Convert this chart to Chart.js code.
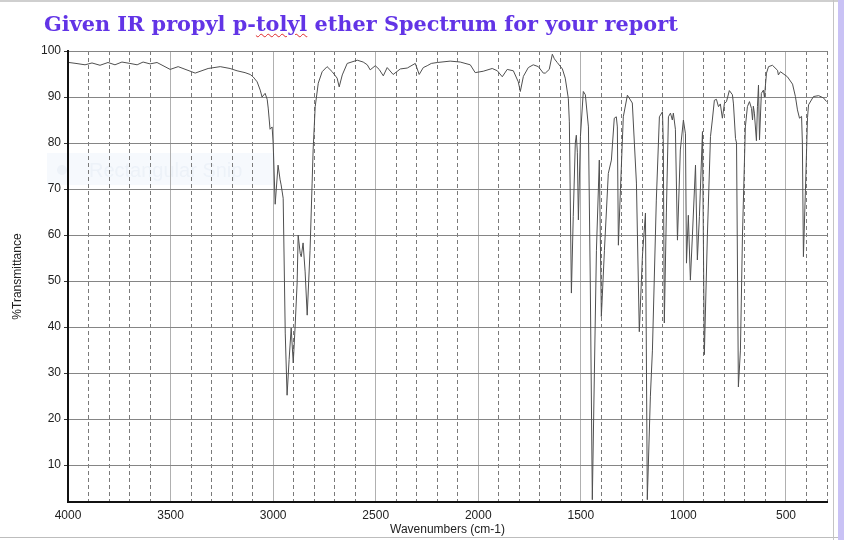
<!DOCTYPE html>
<html>
<head>
<meta charset="utf-8">
<title>IR propyl p-tolyl ether</title>
<script src="https://cdn.jsdelivr.net/npm/chart.js@4.4.1/dist/chart.umd.min.js"></script>
<style>
  html, body { margin: 0; padding: 0; background: #fff; }
  #page { position: relative; width: 844px; height: 540px; overflow: hidden; background: #fff; }
  #irChart { position: absolute; left: 0; top: 0; }
  #title {
    position: absolute; left: 44px; top: 11px;
    font-family: "DejaVu Serif", "Liberation Serif", serif;
    font-weight: bold; font-size: 20.8px; color: #6234e6;
    white-space: nowrap;
  }
  .typo { text-decoration: underline wavy #e02a2a; text-decoration-thickness: 1px; text-underline-offset: 2px; }
  #frameTop { position: absolute; left: 0; top: 0; width: 844px; height: 2px; background: #cfcfcf; }
  #frameBottom { position: absolute; left: 0; top: 537px; width: 844px; height: 1px; background: #bdbdbd; }
  #frameRight { position: absolute; left: 833px; top: 0; width: 1px; height: 540px; background: #c4c4c4; }
  #stripRight { position: absolute; left: 838px; top: 0; width: 6px; height: 540px; background: #c9c2f5; }
</style>
</head>
<body>
<div id="page">
  <canvas id="irChart" width="844" height="540"></canvas>
  <div id="title">Given IR propyl p-<span class="typo">tolyl</span> ether Spectrum for your report</div>
  <div id="frameTop"></div>
  <div id="frameBottom"></div>
  <div id="frameRight"></div>
  <div id="stripRight"></div>
</div>
<script>
// wavenumber (cm-1) and %T
const wavenumbers = [
  3995, 3961, 3917, 3883, 3844, 3805, 3771, 3737, 3698, 3663, 3634, 3600, 3566,
  3502, 3463, 3380, 3317, 3258, 3210, 3176, 3137, 3112, 3098, 3078, 3063, 3054,
  3039, 3029, 3024, 3015, 3005, 3000, 2990, 2976, 2966, 2961, 2951, 2941, 2932,
  2922, 2912, 2902, 2893, 2883, 2878, 2868, 2863, 2854, 2844, 2834, 2820, 2810,
  2805, 2795, 2780, 2761, 2737, 2712, 2688, 2678, 2663, 2639, 2590, 2561, 2541,
  2527, 2502, 2483, 2463, 2444, 2415, 2380, 2346, 2307, 2288, 2268, 2249, 2229,
  2200, 2137, 2088, 2039, 2015, 1976, 1932, 1907, 1883, 1859, 1829, 1805, 1795,
  1780, 1756, 1732, 1707, 1683, 1673, 1654, 1639, 1629, 1615, 1590, 1576, 1561,
  1556, 1546, 1537, 1527, 1522, 1517, 1512, 1502, 1488, 1478, 1463, 1454, 1444,
  1434, 1424, 1410, 1400, 1385, 1366, 1351, 1337, 1327, 1322, 1317, 1307, 1293,
  1273, 1249, 1229, 1215, 1200, 1185, 1176, 1161, 1151, 1132, 1117, 1102, 1098,
  1093, 1083, 1073, 1063, 1054, 1049, 1039, 1029, 1015, 1000, 990, 985, 976,
  966, 956, 941, 932, 922, 907, 898, 883, 868, 859, 849, 839, 829, 820, 810,
  800, 790, 776, 761, 756, 746, 741, 732, 722, 712, 698, 688, 678, 668, 663,
  659, 654, 644, 639, 634, 629, 620, 610, 605, 595, 585, 566, 541, 537, 527,
  493, 468, 454, 444, 434, 424, 420, 415, 405, 395, 390, 366, 341, 317, 302
];
const transmittance = [
  97.5, 97.3, 97.0, 97.4, 96.9, 97.5, 97.0, 97.6, 97.3, 97.0, 97.6, 97.2, 97.5,
  96.0, 96.6, 95.2, 96.2, 96.6, 96.2, 95.7, 95.3, 94.9, 94.4, 93.3, 91.5, 90.0,
  90.8, 89.5, 87.6, 83.0, 83.5, 80.0, 66.7, 75.2, 72.0, 70.9, 68.0, 38.7, 25.2,
  33.0, 39.8, 32.2, 40.0, 49.6, 60.0, 56.0, 55.3, 58.3, 52.0, 42.6, 56.7, 71.3,
  78.5, 87.9, 93.0, 95.5, 96.6, 95.5, 94.1, 92.2, 94.8, 97.3, 98.0, 97.6, 97.0,
  95.9, 96.8, 96.0, 94.6, 96.4, 94.9, 96.1, 96.3, 97.3, 94.9, 96.4, 96.8, 97.3,
  97.5, 97.8, 97.6, 97.0, 95.3, 95.6, 96.2, 95.7, 94.4, 96.0, 95.7, 93.3, 91.2,
  94.5, 96.4, 97.0, 96.6, 95.2, 95.2, 96.0, 99.3, 98.3, 97.5, 96.1, 94.1, 89.7,
  84.6, 47.4, 64.0, 80.0, 81.7, 78.0, 63.3, 81.4, 91.2, 90.5, 83.5, 50.0, 2.5,
  30.0, 56.7, 76.3, 42.3, 56.7, 73.4, 76.3, 85.4, 85.7, 83.5, 57.8, 69.8, 85.7,
  90.4, 88.7, 71.3, 39.0, 55.3, 64.8, 2.5, 25.0, 35.0, 67.6, 85.7, 86.8, 80.0,
  40.9, 65.0, 85.7, 86.5, 85.0, 86.5, 83.0, 58.9, 78.5, 85.0, 82.0, 53.9, 64.3,
  50.2, 60.0, 75.2, 54.6, 64.0, 82.5, 34.0, 60.0, 81.4, 85.0, 89.3, 89.5, 87.9,
  88.5, 85.4, 88.6, 89.0, 91.4, 90.5, 88.5, 81.0, 80.0, 27.0, 35.0, 60.0, 83.5,
  87.9, 89.0, 87.5, 85.0, 88.0, 86.5, 80.5, 88.0, 92.6, 80.7, 90.8, 91.5, 90.0,
  95.2, 96.6, 96.9, 95.8, 94.8, 95.5, 94.4, 92.8, 90.1, 87.2, 85.4, 85.8, 80.0,
  55.3, 70.0, 85.5, 88.3, 90.1, 90.3, 89.8, 89.0
];

// one grid line every 100 cm-1, labelled every 500
const xTickValues = [];
for (let w = 300; w <= 4000; w += 100) xTickValues.push(w);
const yTickValues = [10, 20, 30, 40, 50, 60, 70, 80, 90, 100];

const tickFont = { family: '"Liberation Sans", Arial, sans-serif', size: 12 };

// faint leftover of a screen-snip tooltip on the scan
const snipGhost = {
    id: 'snipGhost',
    beforeDraw(chart) {
        const c = chart.ctx;
        c.save();
        c.fillStyle = 'rgba(232, 240, 250, 0.4)';
        c.fillRect(47, 153, 228, 32);
        c.fillStyle = 'rgba(215, 226, 240, 0.3)';
        c.beginPath();
        c.arc(62, 170, 5, 0, Math.PI * 2);
        c.fill();
        c.font = '20px "Liberation Sans", Arial, sans-serif';
        c.textBaseline = 'middle';
        c.fillText('Rectangular Snip', 89, 171);
        c.restore();
    }
};

function initIrChart() {
    const canvas = document.getElementById('irChart');
    const points = wavenumbers.map((w, i) => ({ x: w, y: transmittance[i] }));

    new Chart(canvas, {
        type: 'line',
        data: {
            datasets: [{
                data: points,
                borderColor: '#4f4f4f',
                borderWidth: 1,
                pointRadius: 0,
                tension: 0,
                fill: false
            }]
        },
        options: {
            responsive: false,
            animation: false,
            layout: { padding: { top: 51, right: 17, bottom: 0, left: 0 } },
            plugins: {
                legend: { display: false },
                tooltip: { enabled: false }
            },
            scales: {
                x: {
                    type: 'linear',
                    reverse: true,
                    min: 300,
                    max: 4000,
                    afterBuildTicks: (scale) => {
                        scale.ticks = xTickValues.map(v => ({ value: v }));
                    },
                    afterFit: (scale) => { scale.height = 38; },
                    ticks: {
                        autoSkip: false,
                        maxRotation: 0,
                        padding: 6,
                        color: '#222',
                        font: tickFont,
                        callback: (value) => (value % 500 === 0 ? String(value) : '')
                    },
                    grid: {
                        drawTicks: false,
                        lineWidth: 1,
                        color: (ctx) => (ctx.tick && ctx.tick.value % 500 === 0 ? '#b0b0b0' : '#7a7a7a')
                    },
                    border: {
                        color: '#111',
                        width: 2,
                        dash: (ctx) => (ctx.tick && ctx.tick.value % 500 !== 0 ? [4, 3] : [])
                    },
                    title: {
                        display: true,
                        text: 'Wavenumbers (cm-1)',
                        color: '#222',
                        font: tickFont,
                        padding: { top: 0, bottom: 3 }
                    }
                },
                y: {
                    min: 2,
                    max: 100,
                    afterBuildTicks: (scale) => {
                        scale.ticks = yTickValues.map(v => ({ value: v }));
                    },
                    afterFit: (scale) => { scale.width = 68; },
                    ticks: {
                        padding: 3,
                        color: '#222',
                        font: tickFont
                    },
                    grid: {
                        color: '#858585',
                        lineWidth: 1,
                        tickLength: 4,
                        tickColor: '#333'
                    },
                    border: { color: '#111', width: 2 },
                    title: {
                        display: true,
                        text: '%Transmittance',
                        color: '#222',
                        font: tickFont,
                        padding: { top: 10, bottom: 0 }
                    }
                }
            }
        },
        plugins: [snipGhost]
    });
}

document.addEventListener('DOMContentLoaded', function() {
    if (typeof Chart === 'undefined') {
        console.error('Chart.js not loaded');
        return;
    }
    initIrChart();
});
</script>
</body>
</html>
